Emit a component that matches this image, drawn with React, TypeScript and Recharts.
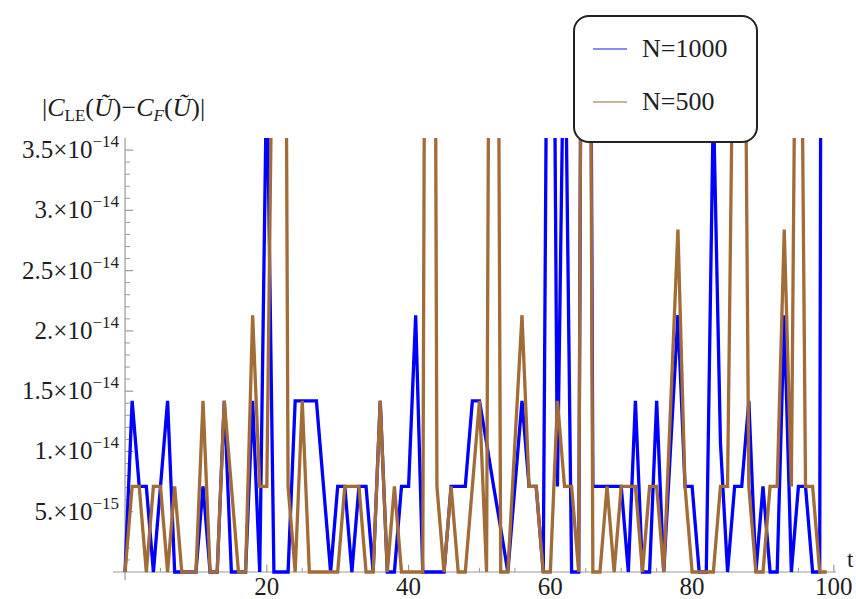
import React from 'react';
import { LineChart, Line, XAxis, YAxis, ReferenceLine, Legend, Label } from 'recharts';

// values in units of 1e-15, sampled at t = 0, 1, 2, ...
const n1000Values = [
  0, 14.2, 7.1, 7.1, 0, 7.1, 14.2, 0, 0, 0,
  0, 7.1, 0, 0, 14.2, 0, 0, 0, 14.2, 0,
  42.6, 0, 0, 0, 14.2, 14.2, 14.2, 14.2, 7.1, 0,
  7.1, 7.1, 0, 7.1, 7.1, 0, 14.2, 0, 0, 7.1,
  7.1, 21.3, 0, 0, 0, 0, 7.1, 7.1, 7.1, 14.2,
  14.2, 10.7, 7.1, 3.6, 0, 7.1, 14.2, 7.1, 7.1, 0,
  92.3, 7.1, 49.7, 0, 0, 142, 7.1, 7.1, 7.1, 7.1,
  7.1, 0, 14.2, 0, 0, 14.2, 0, 10.7, 21.3, 7.1,
  7.1, 0, 0, 39, 10.7, 0, 7.1, 7.1, 14.2, 0,
  7.1, 0, 0, 21.3, 0, 7.1, 7.1, 0, 0, 284,
];
const n500Values = [
  0, 7.1, 7.1, 0, 7.1, 7.1, 0, 7.1, 0, 0,
  0, 14.2, 0, 0, 14.2, 7.1, 0, 0, 21.3, 7.1,
  7.1, 56.8, 142, 7.1, 0, 14.2, 0, 0, 0, 0,
  0, 7.1, 7.1, 7.1, 0, 0, 14.2, 0, 7.1, 0,
  0, 0, 0, 178, 7.1, 0, 7.1, 0, 0, 7.1,
  14.2, 0, 142, 0, 0, 10.7, 21.3, 7.1, 7.1, 0,
  0, 14.2, 7.1, 7.1, 0, 142, 0, 0, 7.1, 0,
  7.1, 7.1, 7.1, 0, 7.1, 7.1, 0, 14.2, 28.4, 7.1,
  0, 0, 0, 0, 7.1, 7.1, 56.8, 85.2, 7.1, 0,
  0, 7.1, 7.1, 28.4, 7.1, 78.2, 7.1, 7.1, 0, 0,
];
const tValues = n1000Values.map((_, i) => i);

const seriesKeys = ['n1000', 'n500'];
const seriesNames = ['N=1000', 'N=500'];
const seriesColors = ['#0000ff', '#a26c38'];
const legendSwatches = ['#8c8cf0', '#c9b39d'];

const xMajorTicks = [20, 40, 60, 80, 100];
const xMinorTicks = [5, 10, 15, 25, 30, 35, 45, 50, 55, 65, 70, 75, 85, 90, 95];
const yMajorTicks = [5e-15, 1e-14, 1.5e-14, 2e-14, 2.5e-14, 3e-14, 3.5e-14];
const yTickMantissas = ['5.', '1.', '1.5', '2.', '2.5', '3.', '3.5'];
const yTickExponents = ['\u221215', '\u221214', '\u221214', '\u221214', '\u221214', '\u221214', '\u221214'];
const yMinorSteps = [1, 2, 3, 4, 6, 7, 8, 9, 11, 12, 13, 14, 16, 17, 18, 19, 21, 22, 23, 24, 26, 27, 28, 29, 31, 32, 33, 34];
const yMinorTicks = yMinorSteps.map((s) => s * 1e-15);

const data = tValues.map((t, i) => ({
  t,
  n1000: n1000Values[i] * 1e-15,
  n500: n500Values[i] * 1e-15,
}));

const FONT = '"Liberation Serif", "Times New Roman", serif';
const AXIS_COLOR = '#9a9a9a';
const TEXT_COLOR = '#1e1e1e';

const XTick = (props: any) => {
  const { x, y, payload } = props;
  return (
    <text x={x} y={y} dy={15} textAnchor="middle" fontSize={25} fontFamily={FONT} fill={TEXT_COLOR}>
      {payload.value}
    </text>
  );
};

const YTick = (props: any) => {
  const { x, y, payload } = props;
  const idx = yMajorTicks.findIndex((v) => Math.abs(v - payload.value) < 1e-17);
  if (idx < 0) return <g />;
  return (
    <text x={x + 6} y={y} dy={8} textAnchor="end" fontSize={25} fontFamily={FONT} fill={TEXT_COLOR}>
      <tspan>{yTickMantissas[idx]}{'\u00d7'}10</tspan>
      <tspan dy={-11} fontSize={17}>{yTickExponents[idx]}</tspan>
    </text>
  );
};

const YTitle = (props: any) => {
  const vb = props.viewBox || { x: 0, y: 138 };
  const x0 = vb.x + 42;
  const y0 = vb.y - 22;
  return (
    <text x={x0} y={y0} fontSize={26} fontFamily={FONT} fill={TEXT_COLOR}>
      <tspan>|</tspan>
      <tspan fontStyle="italic">C</tspan>
      <tspan fontSize={17} dy={5}>LE</tspan>
      <tspan dy={-5}>(</tspan>
      <tspan fontStyle="italic">{'U\u0303'}</tspan>
      <tspan>){'\u2212'}</tspan>
      <tspan fontStyle="italic">C</tspan>
      <tspan fontSize={17} dy={5} fontStyle="italic">F</tspan>
      <tspan dy={-5}>(</tspan>
      <tspan fontStyle="italic">{'U\u0303'}</tspan>
      <tspan>)|</tspan>
    </text>
  );
};

const TTitle = (props: any) => {
  const vb = props.viewBox || { x: 113, y: 580, width: 723 };
  return (
    <text x={vb.x + vb.width + 11} y={vb.y - 13} fontSize={23} fontFamily={FONT} fill={TEXT_COLOR}>
      t
    </text>
  );
};

const LegendBox = () => (
  <div
    style={{
      width: 185,
      height: 128,
      boxSizing: 'border-box',
      border: '2px solid #222',
      borderRadius: 16,
      background: '#fff',
      position: 'relative',
      fontFamily: FONT,
    }}
  >
    {seriesNames.map((name, i) => (
      <div
        key={name}
        style={{
          position: 'absolute',
          left: 18,
          top: 16 + i * 53,
          height: 32,
          display: 'flex',
          alignItems: 'center',
        }}
      >
        <div style={{ width: 34, height: 2, background: legendSwatches[i] }} />
        <span style={{ marginLeft: 15, fontSize: 26, color: TEXT_COLOR, lineHeight: '32px' }}>{name}</span>
      </div>
    ))}
  </div>
);

export default function App() {
  return (
    <div style={{ position: 'absolute', left: 0, top: 0, width: 856, height: 599, background: '#fff' }}>
      <LineChart width={856} height={599} data={data} margin={{ top: 138, right: 20, bottom: 0, left: 0 }}>
        <XAxis
          dataKey="t"
          type="number"
          domain={[-1.7, 100.3]}
          allowDataOverflow
          ticks={xMajorTicks}
          interval={0}
          axisLine={false}
          tickLine={false}
          tickSize={0}
          tickMargin={0}
          height={19}
          tick={<XTick />}
        >
          <Label content={<TTitle />} />
        </XAxis>
        <YAxis
          type="number"
          domain={[-6.64e-16, 3.6e-14]}
          allowDataOverflow
          ticks={yMajorTicks}
          interval={0}
          axisLine={false}
          tickLine={false}
          tickSize={0}
          tickMargin={0}
          width={113}
          tick={<YTick />}
        >
          <Label content={<YTitle />} />
        </YAxis>
        <ReferenceLine x={0} stroke={AXIS_COLOR} strokeWidth={1.2} />
        <ReferenceLine y={0} stroke={AXIS_COLOR} strokeWidth={1.2} />
        {yMajorTicks.map((v) => (
          <ReferenceLine key={'ym' + v} segment={[{ x: 0, y: v }, { x: 1.15, y: v }]} stroke={AXIS_COLOR} strokeWidth={1.2} />
        ))}
        {yMinorTicks.map((v) => (
          <ReferenceLine key={'yn' + v} segment={[{ x: 0, y: v }, { x: 0.7, y: v }]} stroke={AXIS_COLOR} strokeWidth={1} />
        ))}
        {xMajorTicks.map((v) => (
          <ReferenceLine key={'xm' + v} segment={[{ x: v, y: 0 }, { x: v, y: 6e-16 }]} stroke={AXIS_COLOR} strokeWidth={1.2} />
        ))}
        {xMinorTicks.map((v) => (
          <ReferenceLine key={'xn' + v} segment={[{ x: v, y: 0 }, { x: v, y: 3.5e-16 }]} stroke={AXIS_COLOR} strokeWidth={1} />
        ))}
        {seriesKeys.map((k, i) => (
          <Line
            key={k}
            dataKey={k}
            name={seriesNames[i]}
            type="linear"
            stroke={seriesColors[i]}
            strokeWidth={3.3}
            dot={false}
            activeDot={false}
            isAnimationActive={false}
          />
        ))}
        <Legend
          layout="vertical"
          align="center"
          verticalAlign="middle"
          wrapperStyle={{ left: 573, top: 15, width: 185, height: 128 }}
          content={<LegendBox />}
        />
      </LineChart>
    </div>
  );
}
